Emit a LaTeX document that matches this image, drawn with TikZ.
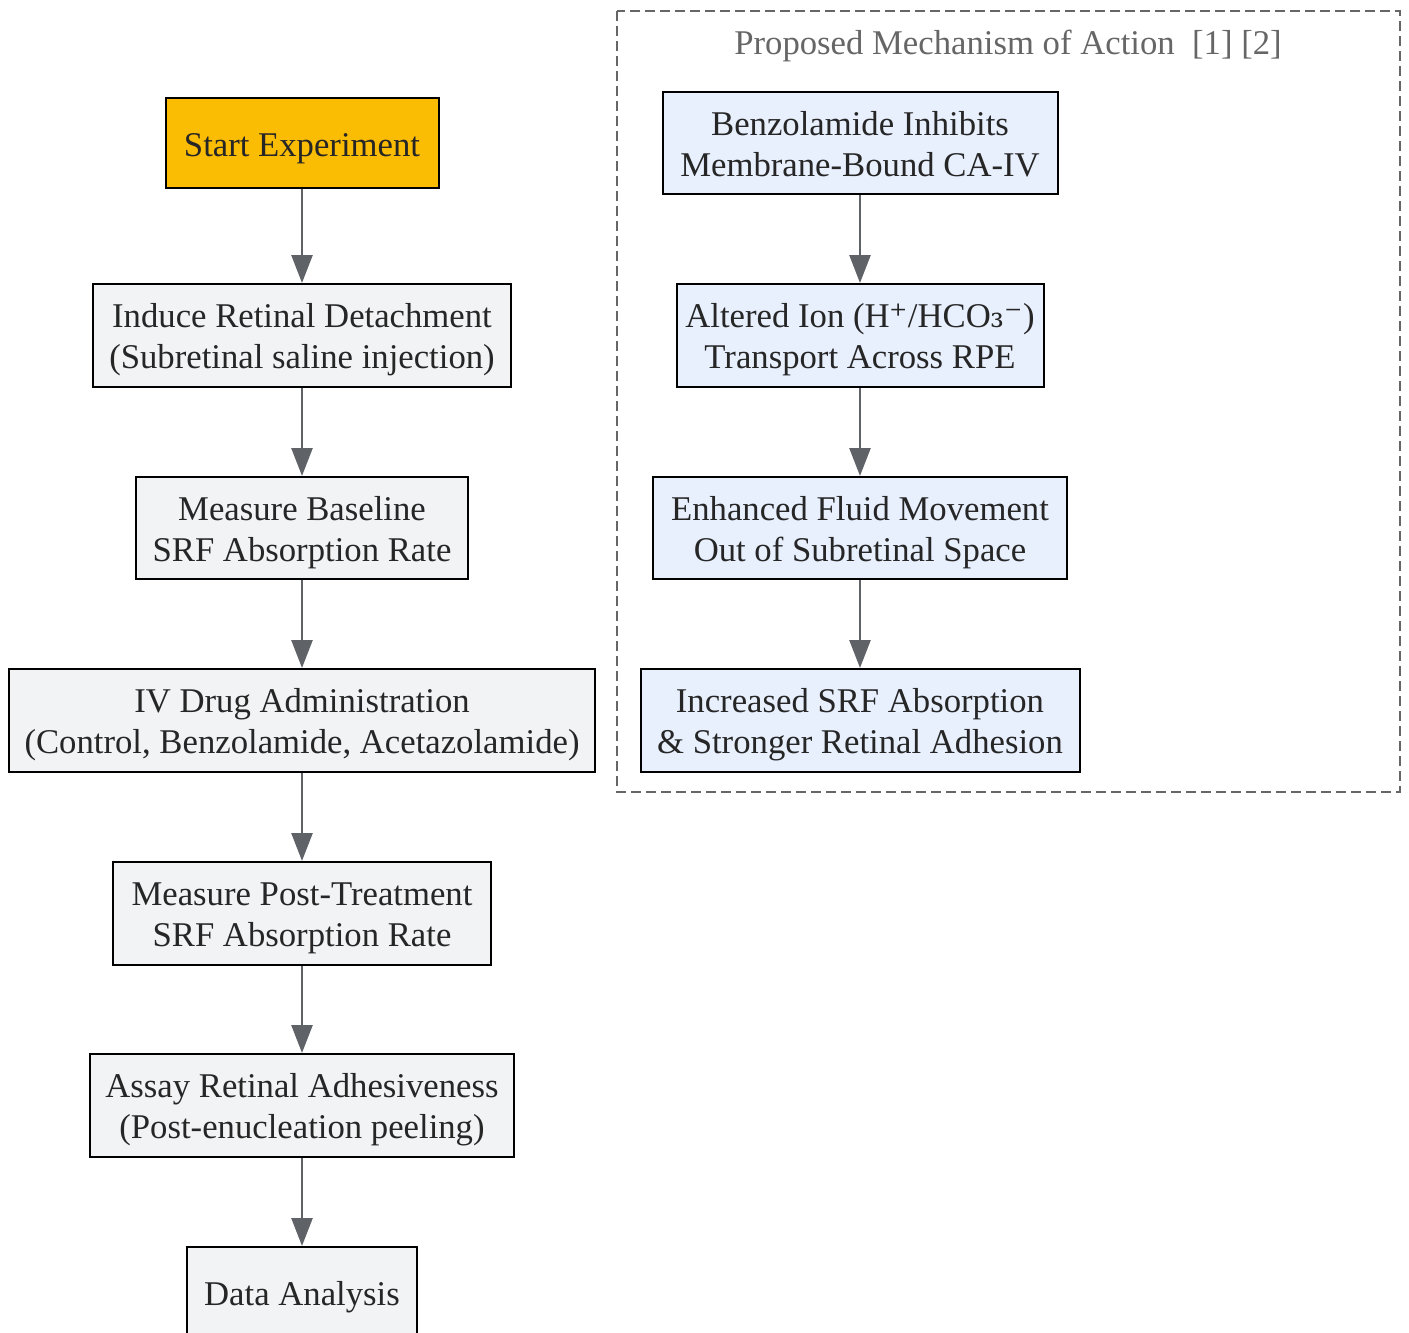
\documentclass[tikz,border=0pt]{standalone}
\usepackage{fontspec}
\setmainfont{Liberation Serif}
\newfontfamily\dvs{DejaVu Serif}
\usetikzlibrary{arrows.meta}
\definecolor{startfill}{HTML}{FBBC04}
\definecolor{grayfill}{HTML}{F1F3F4}
\definecolor{bluefill}{HTML}{E8F0FE}
\definecolor{arrowgray}{HTML}{5F6368}
\definecolor{boxgray}{HTML}{666666}
\newcommand\topstrut{\rule{0pt}{34pt}}
\newcommand\botstrut{\rule[-8pt]{0pt}{8pt}}
\newcommand\twolines[2]{\begin{tabular}{@{}c@{}}\rule{0pt}{38pt}#1\\#2\end{tabular}}
\begin{document}
\begin{tikzpicture}[x=1pt,y=-1pt,
  box/.style={draw=black, line width=2pt, align=center, inner sep=0pt,
    font=\fontsize{34.7}{41}\selectfont, text=black!85},
  oneline/.style={execute at begin node=\topstrut, execute at end node=\botstrut},
  graybox/.style={box, fill=grayfill},
  bluebox/.style={box, fill=bluefill},
  flow/.style={draw=arrowgray, line width=2.6pt, -{Triangle[length=28pt,width=21pt]}}
]
\useasboundingbox (0,0) rectangle (1409,1333);
% cluster
\draw[boxgray, line width=2pt, dash pattern=on 10pt off 5pt] (617,11) rectangle (1400,792);
\node[text=boxgray, font=\fontsize{34.7}{41}\selectfont, anchor=base] (title) at (1008,54) {Proposed Mechanism of Action\ \ [1] [2]};
% left column
\node[box, oneline, fill=startfill, minimum width=273pt, minimum height=90pt] (start) at (302,143) {Start Experiment};
\node[graybox, minimum width=418pt, minimum height=103pt] (induce) at (302,335.5) {\twolines{Induce Retinal Detachment}{(Subretinal saline injection)}};
\node[graybox, minimum width=332pt, minimum height=102pt] (base) at (302,528) {\twolines{Measure Baseline}{SRF Absorption Rate}};
\node[graybox, minimum width=586pt, minimum height=103pt] (iv) at (302,720.5) {\twolines{IV Drug Administration}{(Control, Benzolamide, Acetazolamide)}};
\node[graybox, minimum width=378pt, minimum height=103pt] (post) at (302,913.5) {\twolines{Measure Post-Treatment}{SRF Absorption Rate}};
\node[graybox, minimum width=424pt, minimum height=103pt] (assay) at (302,1105.5) {\twolines{Assay Retinal Adhesiveness}{(Post-enucleation peeling)}};
\node[graybox, oneline, minimum width=230pt, minimum height=90pt] (data) at (302,1292) {Data Analysis};
% right column
\node[bluebox, minimum width=395pt, minimum height=102pt] (benz) at (860,143) {\twolines{Benzolamide Inhibits}{Membrane-Bound CA-IV}};
\node[bluebox, minimum width=367pt, minimum height=103pt] (ion) at (860,335.5) {\twolines{Altered Ion (H{\dvs ⁺}/HCO{\dvs ₃⁻})}{Transport Across RPE}};
\node[bluebox, minimum width=414pt, minimum height=102pt] (fluid) at (860,528) {\twolines{Enhanced Fluid Movement}{Out of Subretinal Space}};
\node[bluebox, minimum width=439pt, minimum height=103pt] (incr) at (860,720.5) {\twolines{Increased SRF Absorption}{\& Stronger Retinal Adhesion}};
% arrows
\draw[flow] (start.south) -- (induce.north);
\draw[flow] (induce.south) -- (base.north);
\draw[flow] (base.south) -- (iv.north);
\draw[flow] (iv.south) -- (post.north);
\draw[flow] (post.south) -- (assay.north);
\draw[flow] (assay.south) -- (data.north);
\draw[flow] (benz.south) -- (ion.north);
\draw[flow] (ion.south) -- (fluid.north);
\draw[flow] (fluid.south) -- (incr.north);
\end{tikzpicture}
\end{document}
